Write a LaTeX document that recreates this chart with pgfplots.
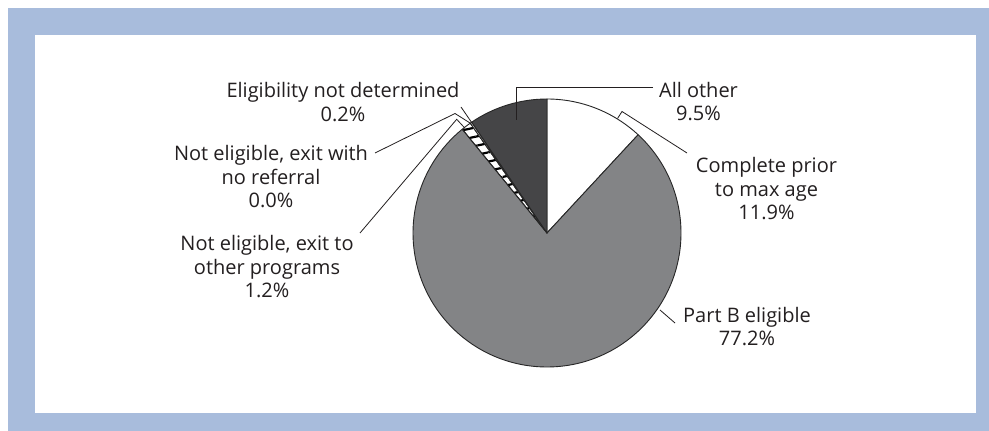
\documentclass[border=0pt]{standalone}
\usepackage{pgfplots}
\pgfplotsset{compat=1.18}
\usepackage{fontspec}
\setmainfont{Open Sans}
\usetikzlibrary{patterns.meta}
\definecolor{frameblue}{RGB}{168,188,220}
\definecolor{slicegray}{RGB}{131,132,134}
\definecolor{slicedark}{RGB}{69,69,71}
\definecolor{txt}{RGB}{35,31,32}
\begin{document}
\begin{tikzpicture}
\begin{axis}[
  scale only axis, width=989bp, height=431bp,
  xmin=0, xmax=989, ymin=0, ymax=431,
  hide axis, clip=false,
]
% background frame
\fill[white] (axis cs:0,0) rectangle (axis cs:989,431);
\fill[frameblue] (axis cs:8,0) rectangle (axis cs:989,423);
\fill[white] (axis cs:35,18) rectangle (axis cs:976,396);
% pie slices, clockwise from top: values in percent
\gdef\curang{90}
\foreach \v/\st in {11.9/{fill=white}, 77.2/{fill=slicegray}, 1.2/{pattern={Lines[angle=12,distance=9bp,line width=2.2bp]},pattern color=black}, 0.0/{fill=white}, 0.2/{fill=white}, 9.5/{fill=slicedark}}{
  \pgfmathsetmacro\endang{\curang-3.6*\v}
  \edef\temp{\noexpand\path[\st] (axis cs:547,198) -- ++(\curang:134bp) arc[start angle=\curang, end angle=\endang, radius=134bp] -- cycle;
    \noexpand\draw[black!85, line width=0.9bp, line join=round] (axis cs:547,198) -- ++(\curang:134bp) arc[start angle=\curang, end angle=\endang, radius=134bp] -- cycle;}
  \temp
  \xdef\curang{\endang}
}
% leader lines
\draw[txt, line width=0.8bp] (axis cs:653,344) -- (axis cs:516,344) -- (axis cs:516,311);
\draw[txt, line width=0.8bp] (axis cs:687,278) -- (axis cs:622,319.5) -- (axis cs:617.5,312.5);
\draw[txt, line width=0.8bp] (axis cs:675,108) -- (axis cs:660,121);
\draw[txt, line width=0.8bp] (axis cs:461,324) -- (axis cs:472,308);
\draw[txt, line width=0.8bp] (axis cs:375,278) -- (axis cs:455,317.5) -- (axis cs:470,308);
\draw[txt, line width=0.8bp] (axis cs:360,198) -- (axis cs:456.7,311.7) -- (axis cs:465,302.7);
% labels (anchor = baseline of last line)
\tikzset{lab/.style={anchor=base, align=center, text=txt, font=\fontsize{20bp}{23.5bp}\selectfont, inner sep=0pt}}
\node[lab] at (axis cs:343,309.5) {Eligibility not determined\\0.2\%};
\node[lab] at (axis cs:271,223) {Not eligible, exit with\\no referral\\0.0\%};
\node[lab] at (axis cs:267,133) {Not eligible, exit to\\other programs\\1.2\%};
\node[lab] at (axis cs:698.5,310) {All other\\9.5\%};
\node[lab] at (axis cs:766.5,211) {Complete prior\\to max age\\11.9\%};
\node[lab] at (axis cs:747,85) {Part B eligible\\77.2\%};
\end{axis}
\end{tikzpicture}
\end{document}
